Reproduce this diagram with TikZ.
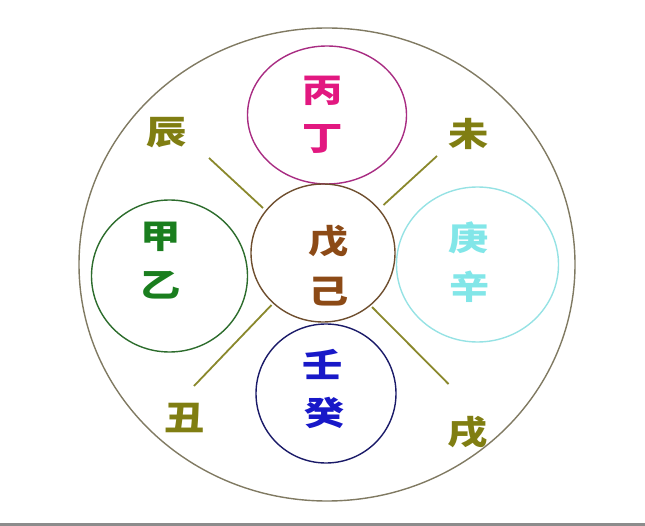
\documentclass[tikz,border=0pt]{standalone}
\usepackage{fontspec}
\newfontfamily\cjk[FakeStretch=1.22]{Noto Sans CJK SC}
\usetikzlibrary{shapes.geometric}
\definecolor{firetxt}{RGB}{226,24,128}
\definecolor{fireline}{RGB}{168,44,130}
\definecolor{woodtxt}{RGB}{26,126,30}
\definecolor{woodline}{RGB}{44,108,44}
\definecolor{earthtxt}{RGB}{140,74,22}
\definecolor{earthline}{RGB}{110,78,46}
\definecolor{metaltxt}{RGB}{130,230,232}
\definecolor{metalline}{RGB}{150,226,228}
\definecolor{watertxt}{RGB}{24,24,200}
\definecolor{waterline}{RGB}{26,26,104}
\definecolor{branchtxt}{RGB}{128,126,18}
\definecolor{spokec}{RGB}{138,136,44}
\definecolor{outerc}{RGB}{128,122,98}

\begin{document}
\begin{tikzpicture}[x=1pt,y=-1pt,
    ring/.style={draw, ellipse, inner sep=0pt, line width=1.4pt},
    zi/.style={font=\cjk\bfseries\fontsize{33}{33}\selectfont, inner sep=0pt},
    spoke/.style={draw=spokec, line width=1.8pt}]
			\useasboundingbox (0,0) rectangle (645,526);
			\fill[gray!90] (0,522.5) rectangle (645,526);

			\node[ring, draw=outerc, minimum width=496pt, minimum height=473pt] (Outer) at (327,264.5) {};
			\node[ring, draw=fireline, minimum width=159pt, minimum height=138pt] (Fire) at (327,115) {};
			\node[ring, draw=earthline, minimum width=144pt, minimum height=138pt] (Earth) at (323,253) {};
			\node[ring, draw=woodline, minimum width=156pt, minimum height=152pt] (Wood) at (169.5,276) {};
			\node[ring, draw=metalline, minimum width=162pt, minimum height=155pt] (Metal) at (477.5,264.5) {};
			\node[ring, draw=waterline, minimum width=140pt, minimum height=139pt] (Water) at (326,393.5) {};

			\node[zi, text=firetxt] (Bing) at (323,90.5) {丙};
			\node[zi, text=firetxt] (Ding) at (323,139) {丁};
			\node[zi, text=woodtxt] (Jia) at (160.5,236.5) {甲};
			\node[zi, text=woodtxt] (Yi) at (160.5,285) {乙};
			\node[zi, text=earthtxt] (Wu) at (329,241.5) {戊};
			\node[zi, text=earthtxt] (Ji) at (329,292) {己};
			\node[zi, text=metaltxt] (Geng) at (469,238) {庚};
			\node[zi, text=metaltxt] (Xin) at (470,287) {辛};
			\node[zi, text=watertxt] (Ren) at (323,364) {壬};
			\node[zi, text=watertxt] (Gui) at (325,413) {癸};

			\node[zi, text=branchtxt] (Chen) at (166.5,132.5) {辰};
			\node[zi, text=branchtxt] (Wei) at (469,134) {未};
			\node[zi, text=branchtxt] (Chou) at (185,418) {丑};
			\node[zi, text=branchtxt] (Xu) at (468,432) {戌};

			\coordinate (UL1) at (209,158);
			\coordinate (UL2) at (263,208);
			\coordinate (UR1) at (437,156);
			\coordinate (UR2) at (383.5,205);
			\coordinate (LL1) at (271.5,305);
			\coordinate (LL2) at (194,386);
			\coordinate (LR1) at (372,307);
			\coordinate (LR2) at (448.5,384);

			\draw[spoke] (UL1) -- (UL2);
			\draw[spoke] (UR1) -- (UR2);
			\draw[spoke] (LL1) -- (LL2);
			\draw[spoke] (LR1) -- (LR2);
		\end{tikzpicture}
\end{document}
